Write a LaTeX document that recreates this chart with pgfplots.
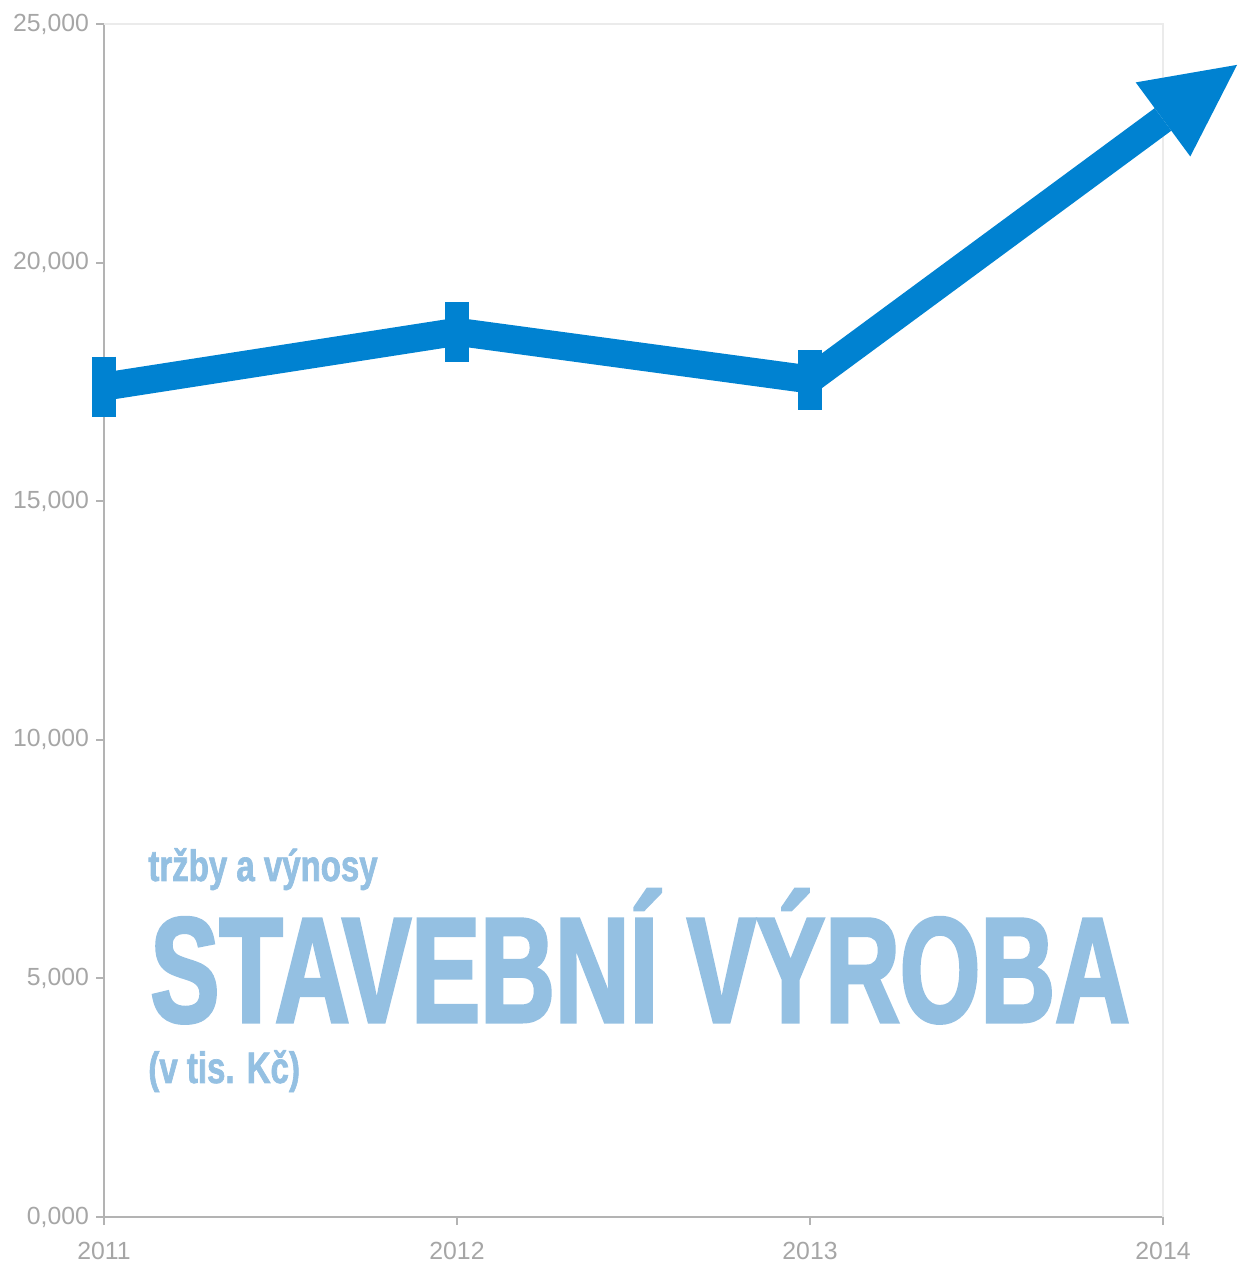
\documentclass[border=0pt]{standalone}
\usepackage{fontspec}
\setmainfont{Liberation Sans}
\newfontfamily\bigfont[FakeStretch=0.69,FakeBold=2]{Liberation Sans Bold}
\newfontfamily\smallfont[FakeStretch=0.75,FakeBold=1.5]{Liberation Sans Bold}
\usepackage{pgfplots}
\pgfplotsset{compat=1.18}
\usetikzlibrary{arrows.meta}
\definecolor{lineblue}{HTML}{0082D1}
\definecolor{textblue}{HTML}{94C0E2}
\definecolor{axgray}{HTML}{B3B3B3}
\definecolor{labgray}{HTML}{A6A6A6}
\definecolor{boxgray}{HTML}{EBEBEB}

\begin{document}
\begin{tikzpicture}
\path[use as bounding box] (-52pt,-23pt) rectangle (566.5pt,608.5pt);
\begin{axis}[
  scale only axis,
  width=529.5pt, height=596.5pt,
  xmin=2011, xmax=2014, ymin=0, ymax=25000,
  axis lines=left,
  axis line style={-, axgray, line width=1pt},
  xtick={2011,2012,2013,2014},
  xticklabels={2011,2012,2013,2014},
  ytick={0,5000,10000,15000,20000,25000},
  yticklabels={{0,000},{5,000},{10,000},{15,000},{20,000},{25,000}},
  tick align=outside,
  major tick length=4pt,
  tick style={axgray, line width=1pt},
  ticklabel style={font=\fontsize{12.4}{14}\selectfont, text=labgray},
  xticklabel style={yshift=-5pt},
  clip=false,
]
\draw[boxgray, line width=0.6pt] (rel axis cs:0,1) -- (rel axis cs:1,1) -- (rel axis cs:1,0);
\addplot[lineblue, line width=14pt, line join=miter,
  -{Triangle[length=46pt,width=46pt,line width=0pt]}, shorten >=-46pt,
  mark=|, mark indices={1,2,3}, mark size=15pt,
  mark options={-, shorten >=0pt, line width=12pt, solid}]
  coordinates {(2011,17400) (2012,18550) (2013,17550) (2014,23000)};
\end{axis}
\node[anchor=base west, inner sep=0, text depth=0pt, text=textblue, font=\smallfont\fontsize{22}{24}\selectfont] at (22pt,168pt) {tržby a výnosy};
\node[anchor=base west, inner sep=0, text depth=0pt, text=textblue, font=\bigfont\fontsize{75}{80}\selectfont] at (23pt,97.5pt) {STAVEBNÍ VÝROBA};
\node[anchor=base west, inner sep=0, text=textblue, font=\smallfont\fontsize{22}{24}\selectfont] at (22pt,67pt) {(v tis. Kč)};
\end{tikzpicture}
\end{document}
